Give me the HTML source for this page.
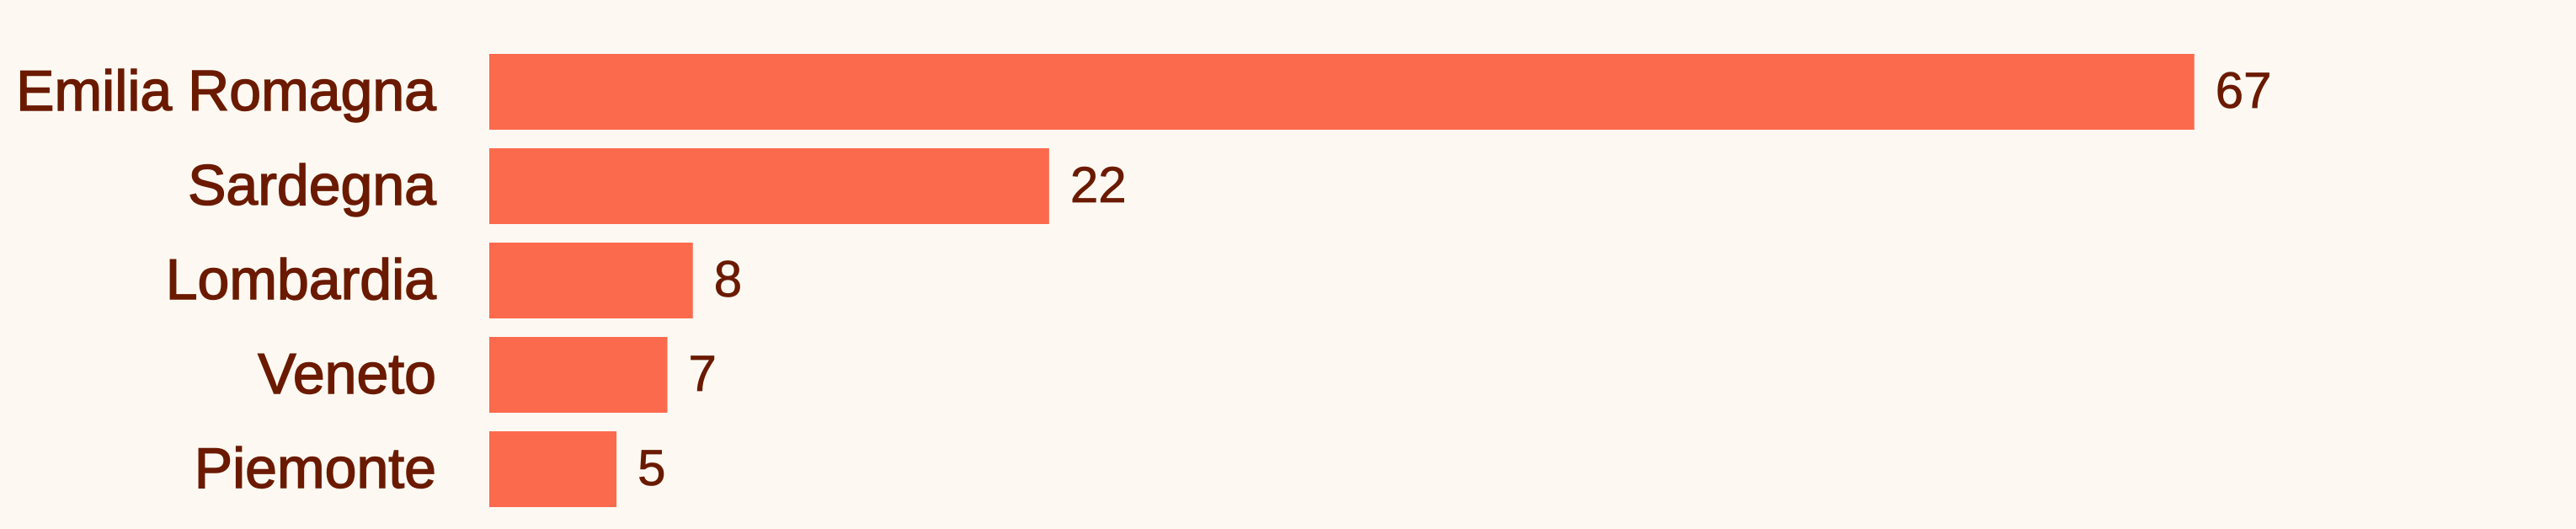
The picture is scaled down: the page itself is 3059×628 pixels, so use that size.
<!DOCTYPE html>
<html><head><meta charset="utf-8"><style>
html,body{margin:0;padding:0;background:#fdf9f2;}
svg{display:block;font-family:"Liberation Sans",sans-serif;}
</style></head><body>
<svg id="chart" width="3059" height="628" viewBox="0 0 3059 628" xmlns="http://www.w3.org/2000/svg">
<rect width="3059" height="628" fill="#fdf9f2"/>
<g id="bars"></g>
</svg>
<script>
const categories = ["Emilia Romagna","Sardegna","Lombardia","Veneto","Piemonte"];
const values = [67,22,8,7,5];
const x0 = 581, unit = 30.22, top0 = 64, pitch = 112, barH = 90;
function xScale(v){ return x0 + v*unit; }
function yScale(i){ return top0 + i*pitch; }
const g = document.getElementById('bars');
const ns = 'http://www.w3.org/2000/svg';
categories.forEach((c,i)=>{
  const y = yScale(i);
  const r = document.createElementNS(ns,'rect');
  r.setAttribute('x', x0);
  r.setAttribute('y', y);
  r.setAttribute('width', xScale(values[i]) - x0);
  r.setAttribute('height', barH);
  r.setAttribute('fill', '#fc6a4d');
  
  
  g.appendChild(r);
  const t = document.createElementNS(ns,'text');
  t.setAttribute('x', 518);
  t.setAttribute('y', y + 67);
  t.setAttribute('text-anchor', 'end');
  t.setAttribute('font-size', '68');
  t.setAttribute('fill', '#6b1a00');
  t.setAttribute('stroke', '#6b1a00');
  t.setAttribute('stroke-width', '1.5');
  t.textContent = c;
  
  
  g.appendChild(t);
  const v = document.createElementNS(ns,'text');
  v.setAttribute('x', xScale(values[i]) + 25);
  v.setAttribute('y', y + 64);
  v.setAttribute('font-size', '60');
  v.setAttribute('fill', '#6b1a00');
  v.setAttribute('stroke', '#6b1a00');
  v.setAttribute('stroke-width', '0.8');
  v.textContent = values[i];
  
  
  g.appendChild(v);
});
</script>
</body></html>
